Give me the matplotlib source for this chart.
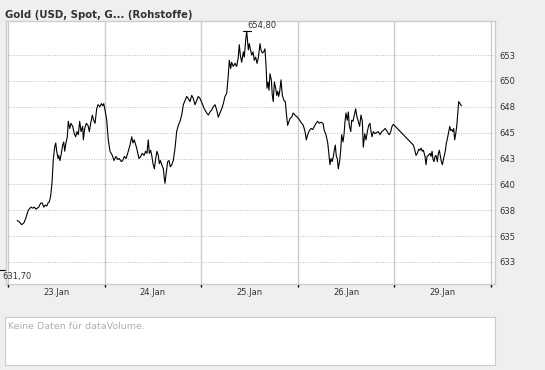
import numpy as np
from matplotlib import pyplot as plt
from matplotlib import transforms

# time in trading days since start of 23.Jan, gold price in USD
days = [0.096, 0.114, 0.142, 0.166, 0.183, 0.210, 0.238, 0.256, 0.272, 0.290,
        0.318, 0.339, 0.355, 0.370, 0.386, 0.401, 0.414, 0.428, 0.442, 0.455,
        0.469, 0.483, 0.494, 0.504, 0.518, 0.525, 0.538, 0.552, 0.566, 0.577,
        0.587, 0.600, 0.614, 0.624, 0.639, 0.652, 0.670, 0.686, 0.701, 0.714,
        0.728, 0.742, 0.756, 0.773, 0.780, 0.794, 0.811, 0.828, 0.842, 0.856,
        0.873, 0.887, 0.901, 0.918, 0.932, 0.952, 0.966, 0.980, 0.991, 1.004,
        1.022, 1.038, 1.056, 1.080, 1.097, 1.118, 1.136, 1.152, 1.173, 1.187,
        1.204, 1.222, 1.239, 1.263, 1.281, 1.294, 1.307, 1.332, 1.356, 1.374,
        1.390, 1.408, 1.425, 1.439, 1.452, 1.463, 1.477, 1.488, 1.501, 1.515,
        1.529, 1.542, 1.556, 1.566, 1.577, 1.591, 1.608, 1.618, 1.625, 1.639,
        1.653, 1.667, 1.680, 1.695, 1.711, 1.729, 1.746, 1.763, 1.781, 1.798,
        1.815, 1.832, 1.850, 1.866, 1.884, 1.902, 1.918, 1.936, 1.953, 1.970,
        1.988, 2.011, 2.032, 2.057, 2.074, 2.091, 2.109, 2.125, 2.143, 2.160,
        2.177, 2.195, 2.212, 2.229, 2.246, 2.264, 2.281, 2.291, 2.305, 2.315,
        2.332, 2.350, 2.367, 2.384, 2.394, 2.405, 2.419, 2.436, 2.446, 2.461,
        2.471, 2.481, 2.488, 2.498, 2.508, 2.523, 2.536, 2.550, 2.564, 2.578,
        2.591, 2.609, 2.619, 2.633, 2.647, 2.660, 2.671, 2.681, 2.692, 2.702,
        2.712, 2.726, 2.736, 2.746, 2.757, 2.771, 2.782, 2.792, 2.802, 2.813,
        2.826, 2.840, 2.857, 2.871, 2.881, 2.895, 2.909, 2.922, 2.937, 2.953,
        2.971, 2.995, 3.012, 3.033, 3.057, 3.075, 3.088, 3.102, 3.119, 3.137,
        3.154, 3.171, 3.188, 3.206, 3.222, 3.240, 3.261, 3.274, 3.292, 3.310,
        3.323, 3.333, 3.344, 3.357, 3.368, 3.378, 3.388, 3.399, 3.409, 3.419,
        3.434, 3.444, 3.454, 3.468, 3.478, 3.489, 3.499, 3.512, 3.523, 3.533,
        3.548, 3.558, 3.571, 3.585, 3.599, 3.613, 3.626, 3.640, 3.654, 3.668,
        3.678, 3.693, 3.706, 3.720, 3.734, 3.747, 3.758, 3.768, 3.782, 3.799,
        3.817, 3.833, 3.851, 3.868, 3.885, 3.903, 3.920, 3.937, 3.947, 3.962,
        3.975, 3.989, 4.196, 4.206, 4.224, 4.237, 4.252, 4.265, 4.276, 4.289,
        4.300, 4.317, 4.327, 4.338, 4.351, 4.369, 4.379, 4.390, 4.400, 4.410,
        4.421, 4.431, 4.445, 4.455, 4.465, 4.476, 4.486, 4.497, 4.507, 4.517,
        4.528, 4.538, 4.548, 4.562, 4.573, 4.583, 4.593, 4.604, 4.614, 4.624,
        4.635, 4.645, 4.656, 4.666, 4.679, 4.693]
prices = [636.5, 636.4, 636.1, 636.3, 636.7, 637.5, 637.8, 637.7, 637.8, 637.6,
          637.8, 638.2, 638.2, 637.8, 638.0, 637.9, 638.2, 638.3, 638.9, 640.1,
          642.4, 643.6, 644.0, 643.2, 642.5, 642.8, 642.3, 643.0, 643.8, 644.1,
          643.2, 644.0, 644.6, 646.1, 645.4, 645.9, 645.6, 644.9, 644.6, 645.1,
          644.8, 646.1, 645.1, 645.6, 644.3, 645.4, 645.9, 645.7, 645.1, 645.9,
          646.7, 646.2, 645.9, 647.3, 647.7, 647.5, 647.8, 647.6, 647.8, 647.2,
          646.2, 644.3, 643.2, 642.8, 642.3, 642.7, 642.4, 642.5, 642.2, 642.3,
          642.7, 642.5, 643.0, 643.8, 644.6, 644.0, 644.3, 643.5, 642.5, 642.7,
          643.0, 642.8, 643.2, 643.0, 644.3, 643.0, 643.3, 642.8, 642.0, 641.5,
          642.5, 643.2, 642.8, 642.0, 642.3, 641.9, 641.5, 640.6, 640.1, 641.2,
          642.2, 642.3, 641.7, 641.9, 642.3, 643.5, 645.1, 645.7, 646.1, 646.7,
          647.7, 648.1, 648.5, 648.3, 648.0, 648.6, 648.3, 647.7, 648.1, 648.5,
          648.3, 647.8, 647.3, 646.9, 646.7, 647.0, 647.2, 647.5, 647.7, 647.2,
          646.5, 646.9, 647.3, 647.8, 648.5, 648.8, 650.6, 652.0, 651.2, 651.8,
          651.4, 651.7, 651.4, 652.3, 653.5, 652.5, 651.8, 652.8, 652.3, 654.0,
          654.8, 653.8, 653.0, 653.6, 653.1, 652.5, 652.8, 652.0, 652.3, 651.7,
          652.2, 653.6, 653.0, 652.7, 652.8, 653.1, 651.5, 649.3, 649.9, 649.1,
          650.7, 650.1, 648.6, 648.0, 649.9, 649.3, 648.6, 649.0, 648.5, 649.0,
          650.1, 648.6, 648.1, 648.0, 646.9, 645.7, 646.1, 646.4, 646.5, 646.9,
          646.7, 646.5, 646.3, 646.0, 645.7, 645.1, 644.3, 644.8, 645.2, 645.4,
          645.3, 645.6, 645.9, 646.1, 645.9, 646.0, 645.9, 645.2, 644.8, 644.0,
          642.8, 641.9, 642.5, 642.2, 642.7, 643.3, 643.8, 642.7, 642.5, 641.5,
          642.3, 643.3, 644.8, 644.1, 644.8, 646.1, 646.9, 646.2, 647.0, 645.7,
          645.1, 646.2, 646.1, 646.7, 647.3, 646.5, 646.1, 645.6, 646.7, 646.1,
          643.6, 644.9, 644.3, 645.1, 645.7, 645.9, 645.1, 644.6, 645.1, 644.9,
          645.0, 645.1, 644.8, 645.1, 645.2, 645.4, 645.2, 644.9, 644.8, 645.1,
          645.6, 645.8, 643.8, 643.5, 642.8, 643.0, 643.4, 643.3, 643.5, 643.2,
          643.3, 642.7, 641.9, 642.7, 642.8, 643.0, 642.7, 643.2, 642.4, 642.2,
          642.7, 642.8, 642.2, 643.0, 643.3, 642.7, 642.2, 641.9, 642.4, 642.8,
          643.3, 644.0, 644.4, 645.1, 645.6, 645.2, 645.3, 645.1, 645.4, 644.3,
          644.9, 645.6, 646.9, 648.0, 647.8, 647.6]

day_labels = ["23.Jan", "24.Jan", "25.Jan", "26.Jan", "29.Jan"]
y_ticks = [632.5, 635, 637.5, 640, 642.5, 645, 647.5, 650, 652.5]
y_tick_labels = ["633", "635", "638", "640", "643", "645", "648", "650", "653"]
high_value = 654.80
low_value = 631.70

W, H = 545, 370
fig = plt.figure(figsize=(W / 100, H / 100), dpi=100)
fig.patch.set_facecolor("#efefef")

ax = fig.add_axes([6 / W, 1 - 284 / H, 489 / W, 263 / H])
ax.set_facecolor("white")
ax.plot(days, prices, color="black", lw=0.8)

ax.set_xlim(-0.0207, 5.0414)
ax.set_ylim(630.37, 655.79)

for s in ax.spines.values():
    s.set_color("#cccccc")
    s.set_linewidth(1)

# vertical day separators and dotted price grid
for d in range(len(day_labels) + 1):
    ax.axvline(d, color="#cccccc", lw=1, zorder=0)
for y in y_ticks:
    ax.axhline(y, color="#bdbdbd", lw=0.7, ls=(0, (1, 1.5)), zorder=0)

ax.set_xticks(range(len(day_labels) + 1))
ax.set_xticklabels([])
ax.tick_params(axis="x", which="major", direction="out", length=2.5, width=1, color="black")
ax.set_xticks([d + 0.5 for d in range(len(day_labels))], minor=True)
ax.set_xticklabels(day_labels, minor=True)
ax.tick_params(axis="x", which="minor", length=0, pad=3, labelsize=6, labelcolor="#333333")

ax.yaxis.tick_right()
ax.set_yticks(y_ticks)
ax.set_yticklabels(y_tick_labels)
ax.tick_params(axis="y", length=0, pad=3.5, labelsize=6, labelcolor="#333333")

# high marker
i_max = int(np.argmax(prices))
x_max = days[i_max]
ax.plot([x_max - 0.04, x_max + 0.04], [high_value, high_value], color="black", lw=0.8)
ax.text(x_max + 0.01, high_value + 0.1, "654,80", fontsize=6, color="#333333",
        ha="left", va="bottom")

# low marker on the left edge
trans = transforms.blended_transform_factory(ax.transAxes, ax.transData)
ax.plot([-0.012, -0.002], [low_value, low_value], color="black", lw=0.8,
        transform=trans, clip_on=False)
ax.text(-0.008, low_value - 0.15, "631,70", fontsize=6, color="#333333",
        ha="left", va="top", transform=trans, clip_on=False)

fig.text(5 / W, 1 - 17.5 / H, "Gold (USD, Spot, G... (Rohstoffe)", fontsize=7.3,
         fontweight="bold", color="#333333", ha="left", va="baseline")

# empty volume panel
vol = fig.add_axes([5 / W, 1 - 365 / H, 490 / W, 48 / H])
vol.set_facecolor("white")
vol.set_xticks([])
vol.set_yticks([])
for s in vol.spines.values():
    s.set_color("#cccccc")
vol.text(3 / 490, 1 - 5 / 48, "Keine Daten für dataVolume.", transform=vol.transAxes,
         fontsize=6.8, color="#b0b0b0", ha="left", va="top")

fig.savefig("out.png", dpi=100, facecolor=fig.get_facecolor())
